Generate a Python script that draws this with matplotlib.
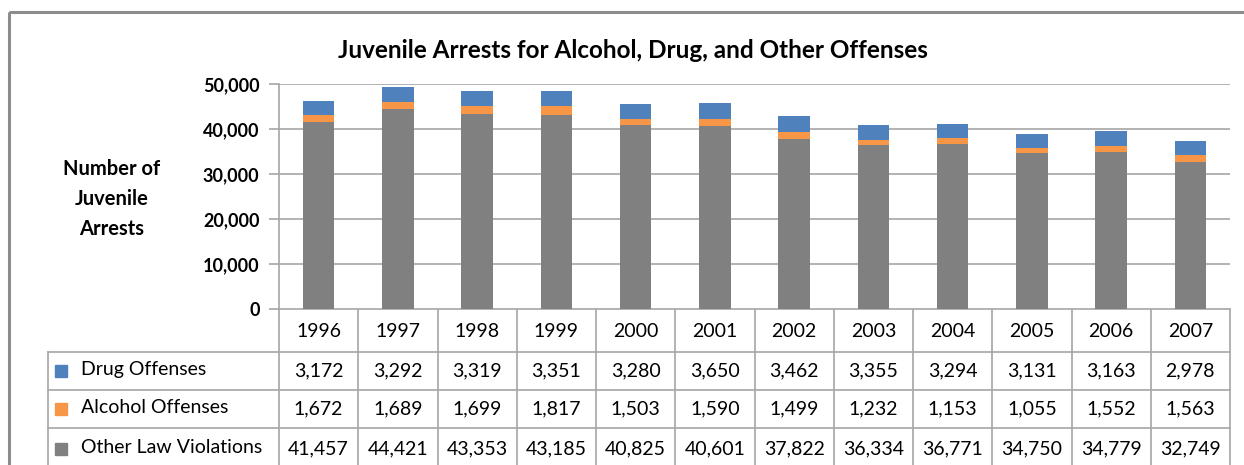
import numpy as np
import matplotlib.pyplot as plt
from matplotlib.ticker import FuncFormatter
from matplotlib.patches import Rectangle

plt.rcParams['font.family'] = ['Lato', 'DejaVu Sans']

years = ['1996', '1997', '1998', '1999', '2000', '2001',
         '2002', '2003', '2004', '2005', '2006', '2007']
drug = [3172, 3292, 3319, 3351, 3280, 3650, 3462, 3355, 3294, 3131, 3163, 2978]
alcohol = [1672, 1689, 1699, 1817, 1503, 1590, 1499, 1232, 1153, 1055, 1552, 1563]
other = [41457, 44421, 43353, 43185, 40825, 40601, 37822, 36334, 36771, 34750, 34779, 32749]
series_names = ['Drug Offenses', 'Alcohol Offenses', 'Other Law Violations']

c_drug = '#4F81BD'
c_alc = '#F79646'
c_other = '#808080'
line_c = '#A6A6A6'

W, H = 1244, 465
fig = plt.figure(figsize=(W / 100, H / 100), dpi=100)

# pixel layout of the plot area
px_left, px_right, px_top, px_bot = 279, 1230, 84, 309
ax = fig.add_axes([px_left / W, 1 - px_bot / H,
                   (px_right - px_left) / W, (px_bot - px_top) / H])

x = np.arange(len(years))
other_a = np.array(other)
alc_a = np.array(alcohol)
drug_a = np.array(drug)
ax.bar(x, other_a, 0.4, color=c_other, zorder=3)
ax.bar(x, alc_a, 0.4, bottom=other_a, color=c_alc, zorder=3)
ax.bar(x, drug_a, 0.4, bottom=other_a + alc_a, color=c_drug, zorder=3)

ax.set_xlim(-0.5, len(years) - 0.5)
ax.set_ylim(0, 50000)
ax.set_yticks(range(0, 50001, 10000))
ax.yaxis.set_major_formatter(FuncFormatter(lambda v, p: f'{int(v):,}'))
ax.set_xticks([])
ax.grid(axis='y', color=line_c, linewidth=1.2, zorder=0)
for s in ['top', 'right', 'bottom']:
    ax.spines[s].set_visible(False)
ax.spines['left'].set_color(line_c)
ax.spines['left'].set_linewidth(1.2)
ax.tick_params(axis='y', length=7, width=1.2, color=line_c, pad=7,
               labelsize=13, labelcolor='black')
for lab in ax.get_yticklabels():
    lab.set_fontweight('bold')

# overlay in pixel coordinates for title, frame and data table
ov = fig.add_axes([0, 0, 1, 1], zorder=-1)
ov.set_xlim(0, W)
ov.set_ylim(H, 0)
ov.axis('off')
ov.add_patch(Rectangle((9, 12), W + 20, H, fill=False,
                       edgecolor='#8C8C8C', linewidth=2.2))

fig.text(633 / W, 1 - 50 / H,
         'Juvenile Arrests for Alcohol, Drug, and Other Offenses',
         ha='center', va='center', fontsize=17.5, fontweight='bold')
fig.text(112 / W, 1 - 199 / H, 'Number of\nJuvenile\nArrests',
         ha='center', va='center', fontsize=14.5, fontweight='bold',
         linespacing=1.6)

# table
cw = (px_right - px_left) / len(years)
rows_y = [309, 352, 390, 428, 470]
lbl_left = 48
lw = 1.2
# horizontal lines
ov.plot([px_left, px_right], [rows_y[0], rows_y[0]], color=line_c, lw=lw)
for yy in rows_y[1:4]:
    ov.plot([lbl_left, px_right], [yy, yy], color=line_c, lw=lw)
# vertical lines
for i in range(len(years) + 1):
    xx = px_left + i * cw
    ov.plot([xx, xx], [rows_y[0], H + 5], color=line_c, lw=lw)
ov.plot([lbl_left, lbl_left], [rows_y[1], H + 5], color=line_c, lw=lw)

for i, yr in enumerate(years):
    ov.text(px_left + (i + 0.5) * cw, (rows_y[0] + rows_y[1]) / 2 + 1, yr,
            ha='center', va='center', fontsize=14)

table_vals = [drug, alcohol, other]
colors = [c_drug, c_alc, c_other]
for r, (name, vals, col) in enumerate(zip(series_names, table_vals, colors)):
    yc = (rows_y[r + 1] + rows_y[r + 2]) / 2
    ov.add_patch(Rectangle((55, yc - 6), 12, 12, color=col))
    ov.text(81, yc - 2, name, ha='left', va='center', fontsize=14)
    for i, v in enumerate(vals):
        ov.text(px_left + (i + 0.5) * cw, yc, f'{v:,}',
                ha='center', va='center', fontsize=14)

fig.savefig('out.png', dpi=100)
